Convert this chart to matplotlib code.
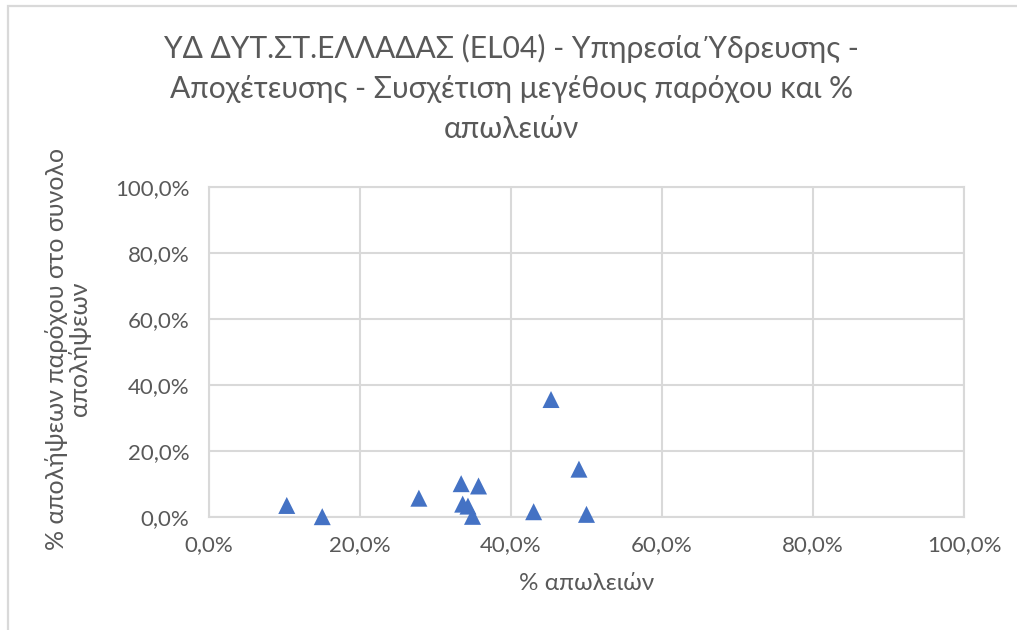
import matplotlib
matplotlib.use("Agg")
import matplotlib.pyplot as plt
from matplotlib.ticker import FuncFormatter
from matplotlib.patches import Rectangle

# % απωλειών (x) και % απολήψεων παρόχου (y), ανά πάροχο
losses = [10.3, 15.0, 27.8, 33.4, 35.7, 33.6, 34.3, 34.9, 45.3, 49.0, 43.0, 50.0]
revenue_share = [3.5, 0.1, 5.7, 10.1, 9.4, 3.9, 3.3, 0.2, 35.6, 14.5, 1.6, 0.8]
ticks = [0, 20, 40, 60, 80, 100]

title = ("ΥΔ ΔΥΤ.ΣΤ.ΕΛΛΑΔΑΣ (EL04) - Υπηρεσία Ύδρευσης -\n"
         "Αποχέτευσης - Συσχέτιση μεγέθους παρόχου και %\nαπωλειών")
xlabel = "% απωλειών"
ylabel = "% απολήψεων παρόχου στο συνολο\nαπολήψεων"

plt.rcParams['font.family'] = ['Lato', 'DejaVu Sans']
grey_txt = '#595959'
grid_c = '#d9d9d9'

fig = plt.figure(figsize=(10.17, 6.3), dpi=100)
fig.patch.set_facecolor('white')
# chart area border (only top and left visible in the reference)
fig.add_artist(Rectangle((8 / 1017, -0.1), 1.2, (630 - 6) / 630 + 0.1,
                         transform=fig.transFigure, fill=False,
                         edgecolor=grid_c, linewidth=1.6))

ax = fig.add_axes([209 / 1017, (630 - 517) / 630, 755 / 1017, 330 / 630])
ax.scatter(losses, revenue_share, marker='^', s=150, color='#4472C4',
           edgecolors='none', zorder=3, clip_on=False)

ax.set_xlim(0, 100)
ax.set_ylim(0, 100)
ax.set_xticks(ticks)
ax.set_yticks(ticks)
fmt = FuncFormatter(lambda v, p: f"{v:.1f}%".replace('.', ','))
ax.xaxis.set_major_formatter(fmt)
ax.yaxis.set_major_formatter(fmt)
ax.tick_params(length=0, labelsize=16, colors=grey_txt)
ax.tick_params(axis='x', pad=13)
ax.tick_params(axis='y', pad=14)
ax.grid(True, color=grid_c, linewidth=1.5)
ax.set_axisbelow(True)
for s in ax.spines.values():
    s.set_color(grid_c)
    s.set_linewidth(1.5)

ax.set_xlabel(xlabel, fontsize=17.5, color=grey_txt)
ax.xaxis.set_label_coords((587 - 209) / 755, -(583 - 517) / 330)
ax.xaxis.label.set_va('center')
ax.set_ylabel(ylabel, fontsize=18, color=grey_txt, linespacing=1.0)
ax.yaxis.set_label_coords((68 - 209) / 755, (517 - 349) / 330)
ax.yaxis.label.set_va('center')
ax.yaxis.label.set_ha('center')
fig.text(0.503, 1 - 34 / 630, title, ha='center', va='top', fontsize=21.6,
         color=grey_txt, linespacing=1.52)

fig.savefig('out.png', dpi=100)
